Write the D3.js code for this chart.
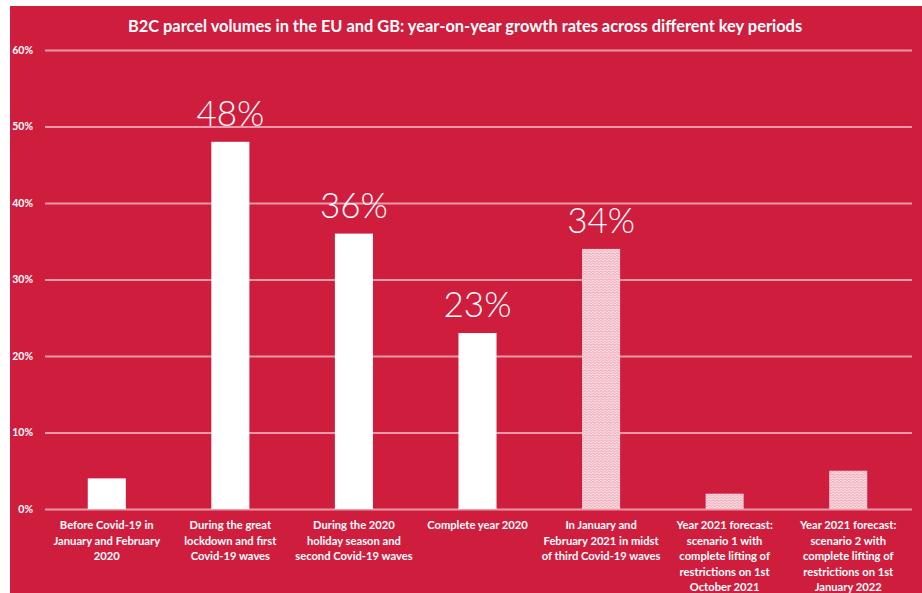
<!DOCTYPE html>
<html>
<head>
<meta charset="utf-8">
<script src="https://cdn.jsdelivr.net/npm/d3@7"></script>
<style>
  html, body { margin: 0; padding: 0; background: #ffffff; }
  svg { display: block; }
  text { font-family: Lato, "Open Sans", sans-serif; fill: #ffffff; }
</style>
</head>
<body>
<svg id="chart" width="922" height="593"></svg>
<script>
// Key periods (x axis), one label line per array entry
const categories = [
  ["Before Covid-19 in", "January and February", "2020"],
  ["During the great", "lockdown and first", "Covid-19 waves"],
  ["During the 2020", "holiday season and", "second Covid-19 waves"],
  ["Complete year 2020"],
  ["In January and", "February 2021 in midst", "of third Covid-19 waves"],
  ["Year 2021 forecast:", "scenario 1 with", "complete lifting of", "restrictions on 1st", "October 2021"],
  ["Year 2021 forecast:", "scenario 2 with", "complete lifting of", "restrictions on 1st", "January 2022"]
];

// Year-on-year growth of B2C parcel volumes, in percent
const growth = [4, 48, 36, 23, 34, 2, 5];

// Which periods carry a printed value, and which are estimates/forecasts (hatched)
const showValue = [false, true, true, true, true, false, false];
const estimated = [false, false, false, false, true, true, true];

// Y axis ticks
const yTicks = [0, 10, 20, 30, 40, 50, 60];

const title = "B2C parcel volumes in the EU and GB: year-on-year growth rates across different key periods";

const W = 922, H = 593;
const RED = "#cf1d3e";
const svg = d3.select("#chart");

// Red panel
svg.append("rect")
  .attr("x", 10).attr("y", 6)
  .attr("width", W - 10).attr("height", H - 6)
  .attr("fill", RED);

// Fine wavy texture for estimated bars
const defs = svg.append("defs");
const pat = defs.append("pattern")
  .attr("id", "wave")
  .attr("patternUnits", "userSpaceOnUse")
  .attr("width", 4).attr("height", 2.6);
pat.append("rect").attr("width", 4).attr("height", 2.6).attr("fill", "#fbe3e8");
pat.append("path")
  .attr("d", "M0 1.3 Q1 0 2 1.3 T4 1.3")
  .attr("fill", "none")
  .attr("stroke", "#ec97a8")
  .attr("stroke-width", 0.9);

const x = d3.scaleBand()
  .domain(d3.range(categories.length))
  .range([45, 910])
  .paddingInner(0.692)
  .paddingOuter(0.346);

const y = d3.scaleLinear().domain([0, 60]).range([509, 50]);

// Title
svg.append("text")
  .attr("x", 465).attr("y", 32)
  .attr("text-anchor", "middle")
  .attr("font-weight", 700)
  .attr("font-size", 16.4)
  .text(title);

// Gridlines + tick labels
const yAxis = d3.axisLeft(y)
  .tickValues(yTicks)
  .tickSize(-(912 - 45))
  .tickPadding(12)
  .tickFormat(d => d + "%");

const gy = svg.append("g")
  .attr("transform", "translate(45,0)")
  .call(yAxis);
gy.select(".domain").remove();
gy.selectAll(".tick line")
  .attr("stroke", "#ffffff")
  .attr("stroke-opacity", 0.55)
  .attr("stroke-width", 2);
gy.selectAll(".tick text")
  .attr("fill", "#ffffff")
  .attr("font-family", "Lato, sans-serif")
  .attr("font-weight", 700)
  .attr("font-size", 10.5);

// Bars
svg.append("g").selectAll("rect")
  .data(growth)
  .join("rect")
  .attr("x", (d, i) => x(i))
  .attr("y", d => y(d))
  .attr("width", x.bandwidth())
  .attr("height", d => y(0) - y(d))
  .attr("fill", (d, i) => estimated[i] ? "url(#wave)" : "#ffffff");

// Value labels
svg.append("g").selectAll("text")
  .data(growth.map((v, i) => ({ v, i })).filter(d => showValue[d.i]))
  .join("text")
  .attr("x", d => x(d.i) + x.bandwidth() / 2)
  .attr("y", d => y(d.v) - 16)
  .attr("text-anchor", "middle")
  .attr("font-weight", 300)
  .attr("font-size", 35)
  .text(d => d.v + "%");

// Category labels
const cat = svg.append("g").selectAll("text")
  .data(categories)
  .join("text")
  .attr("text-anchor", "middle")
  .attr("font-weight", 700)
  .attr("font-size", 11.2);
cat.each(function (lines, i) {
  d3.select(this).selectAll("tspan")
    .data(lines)
    .join("tspan")
    .attr("x", x(i) + x.bandwidth() / 2)
    .attr("y", (d, k) => 529 + k * 15.5)
    .text(d => d);
});
</script>
</body>
</html>
